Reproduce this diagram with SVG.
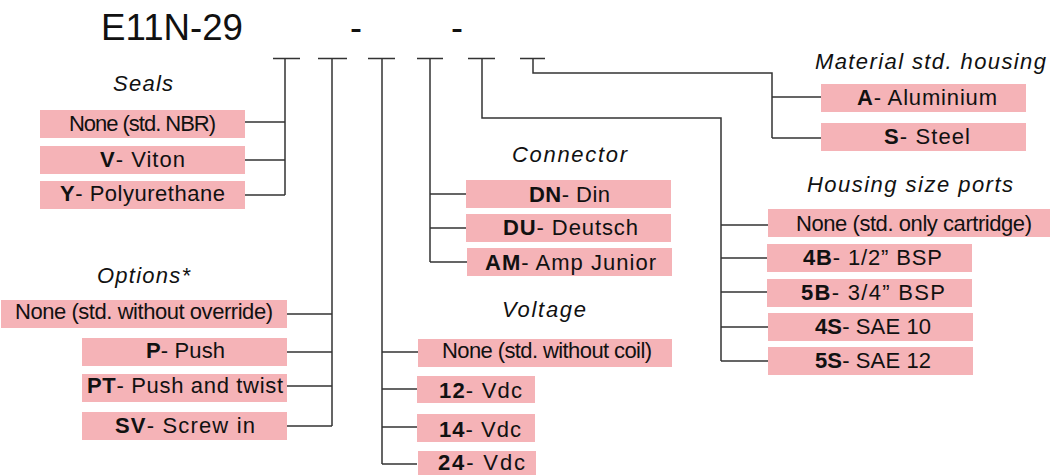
<svg xmlns="http://www.w3.org/2000/svg" width="1050" height="475" viewBox="0 0 1050 475">
<style>
.bx{fill:#F5B3B7}
.t{font-family:"Liberation Sans",Arial,sans-serif;font-size:22px;fill:#111}
.b{font-weight:bold}
.h{font-family:"Liberation Sans",Arial,sans-serif;font-size:22px;font-style:italic;fill:#111}
.ttl{font-family:"Liberation Sans",Arial,sans-serif;font-size:36px;fill:#111}
.ln{fill:none;stroke:#333;stroke-width:1.5}
</style>
<rect width="1050" height="475" fill="#fff"/>
<g id="title">
<text class="ttl" x="101" y="40" textLength="142" lengthAdjust="spacingAndGlyphs">E11N-29</text>
<text class="ttl" x="356" y="40" text-anchor="middle">-</text>
<text class="ttl" x="457" y="40" text-anchor="middle">-</text>
</g>
<g id="connectors">
<path class="ln" d="M273 58.5H300M285 58.5V195M245 122H285M245 160H285M245 195H285"/>
<path class="ln" d="M318 58.5H347M332 58.5V426M287 314H332M287 352H332M287 386H332M287 426H332"/>
<path class="ln" d="M368 58.5H395M382 58.5V464M382 352H418M382 389H417M382 427H417M382 464H417"/>
<path class="ln" d="M417 58.5H443M430 58.5V262M430 194H466M430 228H466M430 262H467"/>
<path class="ln" d="M468 58.5H495M482 58.5V118H721V361M721 225H768M721 258H767M721 292H767M721 327H768M721 361H768"/>
<path class="ln" d="M520 58.5H545M533 58.5V73H772V138M772 97H821M772 138H821"/>
</g>
<g id="seals">
<text class="h" x="113" y="91" textLength="60">Seals</text>
<rect class="bx" x="40" y="110" width="205" height="28"/>
<text class="t" x="69" y="131" textLength="147">None (std. NBR)</text>
<rect class="bx" x="40" y="146" width="205" height="28"/>
<text class="t" x="100" y="167" textLength="85"><tspan class="b">V</tspan>- Viton</text>
<rect class="bx" x="40" y="181" width="205" height="28"/>
<text class="t" x="60" y="201" textLength="165"><tspan class="b">Y</tspan>- Polyurethane</text>
</g>
<g id="options">
<text class="h" x="97" y="283" textLength="93">Options*</text>
<rect class="bx" x="1" y="300" width="286" height="28"/>
<text class="t" x="15" y="319" textLength="258">None (std. without override)</text>
<rect class="bx" x="82" y="338" width="205" height="28"/>
<text class="t" x="146" y="358" textLength="79"><tspan class="b">P</tspan>- Push</text>
<rect class="bx" x="82" y="374" width="205" height="28"/>
<text class="t" x="87" y="393" textLength="196"><tspan class="b">PT</tspan>- Push and twist</text>
<rect class="bx" x="82" y="412" width="205" height="28"/>
<text class="t" x="115" y="433" textLength="140"><tspan class="b">SV</tspan>- Screw in</text>
</g>
<g id="connector">
<text class="h" x="512" y="162" textLength="115">Connector</text>
<rect class="bx" x="466" y="180" width="205" height="28"/>
<text class="t" x="529" y="202" textLength="81"><tspan class="b">DN</tspan>- Din</text>
<rect class="bx" x="466" y="214" width="205" height="28"/>
<text class="t" x="503" y="235" textLength="135"><tspan class="b">DU</tspan>- Deutsch</text>
<rect class="bx" x="467" y="248" width="205" height="28"/>
<text class="t" x="485" y="270" textLength="171"><tspan class="b">AM</tspan>- Amp Junior</text>
</g>
<g id="voltage">
<text class="h" x="502" y="317" textLength="84">Voltage</text>
<rect class="bx" x="418" y="339" width="254" height="28"/>
<text class="t" x="442" y="358" textLength="210">None (std. without coil)</text>
<rect class="bx" x="417" y="376" width="118" height="27"/>
<text class="t" x="439" y="398" textLength="83"><tspan class="b">12</tspan>- Vdc</text>
<rect class="bx" x="417" y="414" width="118" height="28"/>
<text class="t" x="439" y="437" textLength="82"><tspan class="b">14</tspan>- Vdc</text>
<rect class="bx" x="418" y="451" width="118" height="28"/>
<text class="t" x="438" y="470" textLength="87"><tspan class="b">24</tspan>- Vdc</text>
</g>
<g id="housing">
<text class="h" x="807" y="192" textLength="206">Housing size ports</text>
<rect class="bx" x="768" y="209" width="282" height="28"/>
<text class="t" x="796" y="231" textLength="236">None (std. only cartridge)</text>
<rect class="bx" x="767" y="244" width="205" height="28"/>
<text class="t" x="803" y="265" textLength="139"><tspan class="b">4B</tspan>- 1/2” BSP</text>
<rect class="bx" x="767" y="279" width="205" height="28"/>
<text class="t" x="801" y="300" textLength="144"><tspan class="b">5B</tspan>- 3/4” BSP</text>
<rect class="bx" x="768" y="313" width="205" height="28"/>
<text class="t" x="815" y="334" textLength="116"><tspan class="b">4S</tspan>- SAE 10</text>
<rect class="bx" x="768" y="347" width="205" height="28"/>
<text class="t" x="815" y="368" textLength="116"><tspan class="b">5S</tspan>- SAE 12</text>
</g>
<g id="material">
<text class="h" x="815" y="69" textLength="231">Material std. housing</text>
<rect class="bx" x="821" y="84" width="205" height="28"/>
<text class="t" x="857" y="105" textLength="140"><tspan class="b">A</tspan>- Aluminium</text>
<rect class="bx" x="821" y="123" width="205" height="28"/>
<text class="t" x="884" y="144" textLength="86"><tspan class="b">S</tspan>- Steel</text>
</g>
</svg>
